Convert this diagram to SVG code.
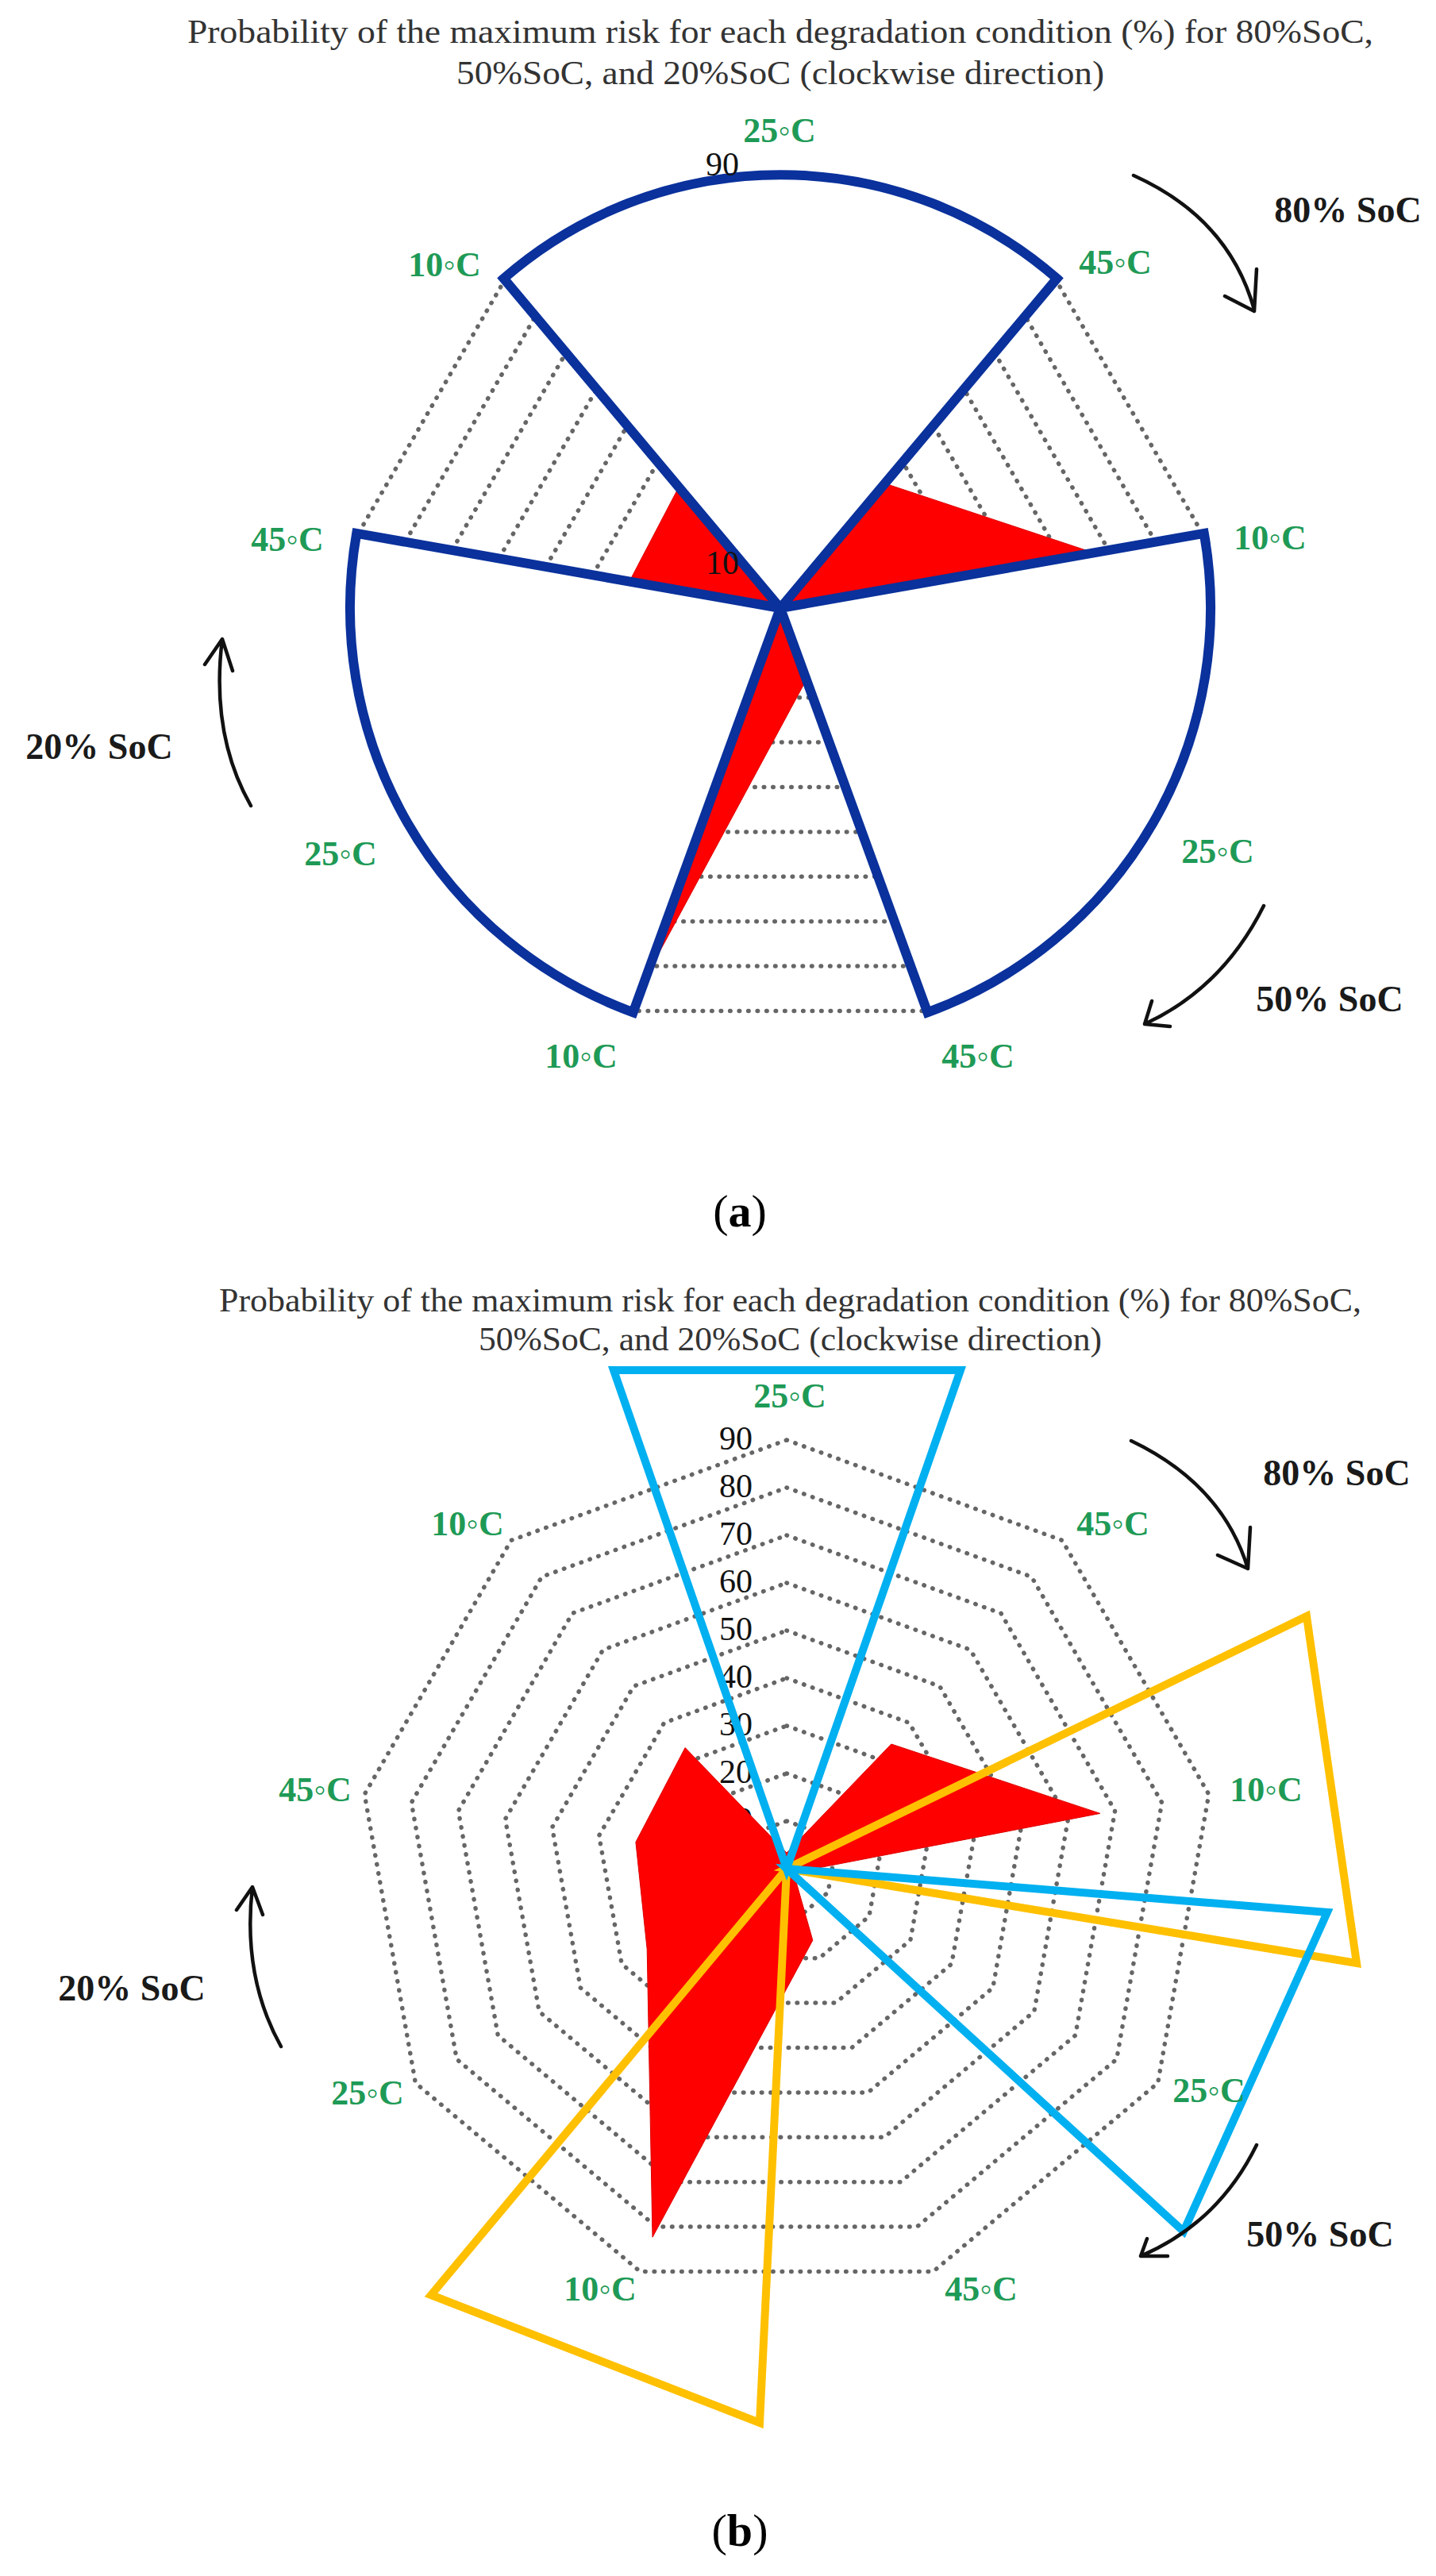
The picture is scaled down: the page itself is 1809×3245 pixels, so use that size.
<svg xmlns="http://www.w3.org/2000/svg" xmlns:xlink="http://www.w3.org/1999/xlink" width="1809" height="3245" viewBox="0 0 1809 3245">
<style>
.title{font-family:"Liberation Serif",serif;font-size:42px;fill:#333}
.ax{font-family:"Liberation Serif","DejaVu Serif",serif;font-weight:bold;font-size:44px;fill:#1e9a56;text-anchor:middle}
.num{font-family:"Liberation Serif",serif;font-size:42px;fill:#111;text-anchor:end}
.soc{font-family:"Liberation Serif",serif;font-weight:bold;font-size:46px;fill:#1a1a1a;text-anchor:middle}
.cap{font-family:"Liberation Serif",serif;font-size:58px;fill:#000;text-anchor:middle}
.ring{fill:none;stroke:#666;stroke-width:5.5;stroke-dasharray:0.5 11;stroke-linecap:round}
.red{fill:#f00;stroke:#d00;stroke-width:1}
.sector{fill:#fff;stroke:#0a319c;stroke-width:12;stroke-linejoin:miter}
.cyan{fill:none;stroke:#00b0f0;stroke-width:10;stroke-linejoin:miter}
.orange{fill:none;stroke:#ffc000;stroke-width:10;stroke-linejoin:miter}
.arr{fill:none;stroke:#111;stroke-width:4.5;stroke-linecap:round;stroke-linejoin:round}
</style>
<defs>
<g id="rings">
<polygon class="ring" points="0,-60 38.6,-46 59.1,-10.4 52,30 20.5,56.4 -20.5,56.4 -52,30 -59.1,-10.4 -38.6,-46"/>
<polygon class="ring" points="0,-120 77.1,-91.9 118.2,-20.8 103.9,60 41,112.8 -41,112.8 -103.9,60 -118.2,-20.8 -77.1,-91.9"/>
<polygon class="ring" points="0,-180 115.7,-137.9 177.3,-31.2 155.9,90 61.6,169.1 -61.6,169.1 -155.9,90 -177.3,-31.2 -115.7,-137.9"/>
<polygon class="ring" points="0,-240 154.3,-183.8 236.4,-41.7 207.8,120 82.1,225.5 -82.1,225.5 -207.8,120 -236.4,-41.7 -154.3,-183.8"/>
<polygon class="ring" points="0,-300 192.8,-229.8 295.4,-52.1 259.8,150 102.6,281.9 -102.6,281.9 -259.8,150 -295.4,-52.1 -192.8,-229.8"/>
<polygon class="ring" points="0,-360 231.4,-275.8 354.5,-62.5 311.8,180 123.1,338.3 -123.1,338.3 -311.8,180 -354.5,-62.5 -231.4,-275.8"/>
<polygon class="ring" points="0,-420 270,-321.7 413.6,-72.9 363.7,210 143.6,394.7 -143.6,394.7 -363.7,210 -413.6,-72.9 -270,-321.7"/>
<polygon class="ring" points="0,-480 308.5,-367.7 472.7,-83.3 415.7,240 164.2,451.1 -164.2,451.1 -415.7,240 -472.7,-83.3 -308.5,-367.7"/>
<polygon class="ring" points="0,-540 347.1,-413.6 531.8,-93.7 467.6,270 184.7,507.4 -184.7,507.4 -467.6,270 -531.8,-93.7 -347.1,-413.6"/>
</g>
<polygon id="data" class="red" points="0,-20 131.8,-157 394.9,-69.6 8.7,5 32.8,90.2 -169,464.2 -175.8,101.5 -190.1,-33.5 -127.9,-152.4"/>
</defs>

<g id="chart-a">
<text class="title" x="236" y="54" textLength="1494" lengthAdjust="spacingAndGlyphs">Probability of the maximum risk for each degradation condition (%) for 80%SoC,</text>
<text class="title" x="575" y="106" textLength="816" lengthAdjust="spacingAndGlyphs">50%SoC, and 20%SoC (clockwise direction)</text>
<g transform="translate(983,766)">
<use href="#rings"/>
<use href="#data"/>
<g id="a-sectors">
<path class="sector" d="M0,0 L-348.4,-415.2 A530,530 0 0 1 348.4,-415.2 Z"/>
<path class="sector" d="M0,0 L533.8,-94.1 A542,542 0 0 1 185.4,509.3 Z"/>
<path class="sector" d="M0,0 L-185.4,509.3 A542,542 0 0 1 -533.8,-94.1 Z"/>
</g>
<text class="num" x="-52" y="-43">10</text>
<text class="num" x="-52" y="-545">90</text>
</g>
<g id="a-labels">
<text class="ax" x="982" y="179">25◦C</text>
<text class="ax" x="1405" y="345">45◦C</text>
<text class="ax" x="1600" y="692">10◦C</text>
<text class="ax" x="1534" y="1087">25◦C</text>
<text class="ax" x="1232" y="1345">45◦C</text>
<text class="ax" x="732" y="1345">10◦C</text>
<text class="ax" x="429" y="1090">25◦C</text>
<text class="ax" x="362" y="694">45◦C</text>
<text class="ax" x="560" y="348">10◦C</text>
<text class="soc" x="1698" y="280">80% SoC</text>
<text class="soc" x="1675" y="1274">50% SoC</text>
<text class="soc" x="125" y="956">20% SoC</text>
</g>
<text class="cap" x="932" y="1545">(<tspan font-weight="bold">a</tspan>)</text>
</g>

<g id="chart-b">
<text class="title" x="276" y="1652" textLength="1439" lengthAdjust="spacingAndGlyphs">Probability of the maximum risk for each degradation condition (%) for 80%SoC,</text>
<text class="title" x="603" y="1701" textLength="785" lengthAdjust="spacingAndGlyphs">50%SoC, and 20%SoC (clockwise direction)</text>
<g transform="translate(991,2354)">
<use href="#rings"/>
<text class="num" x="-43" y="12">0</text>
<text class="num" x="-43" y="-48">10</text>
<text class="num" x="-43" y="-108">20</text>
<text class="num" x="-43" y="-168">30</text>
<text class="num" x="-43" y="-228">40</text>
<text class="num" x="-43" y="-288">50</text>
<text class="num" x="-43" y="-348">60</text>
<text class="num" x="-43" y="-408">70</text>
<text class="num" x="-43" y="-468">80</text>
<text class="num" x="-43" y="-528">90</text>
<use href="#data"/>
<g id="b-triangles">
<polygon class="orange" points="0,0 655,-318 718,119"/>
<polygon class="orange" points="0,0 -448,537 -34,698"/>
<polygon class="cyan" points="0,0 -218,-628 219,-628"/>
<polygon class="cyan" points="0,0 681,55 500,457"/>
</g>
</g>
<g id="b-labels">
<text class="ax" x="995" y="1773">25◦C</text>
<text class="ax" x="1402" y="1934">45◦C</text>
<text class="ax" x="1595" y="2269">10◦C</text>
<text class="ax" x="1523" y="2648">25◦C</text>
<text class="ax" x="1236" y="2898">45◦C</text>
<text class="ax" x="756" y="2898">10◦C</text>
<text class="ax" x="463" y="2651">25◦C</text>
<text class="ax" x="397" y="2269">45◦C</text>
<text class="ax" x="589" y="1934">10◦C</text>
<text class="soc" x="1684" y="1871">80% SoC</text>
<text class="soc" x="1663" y="2830">50% SoC</text>
<text class="soc" x="166" y="2520">20% SoC</text>
</g>
<text class="cap" x="932" y="3207">(<tspan font-weight="bold">b</tspan>)</text>
</g>

<g id="connectors">
<path class="arr" d="M1428,221 Q1548,275 1580,390 M1543,373 L1580,392 L1583,339"/>
<path class="arr" d="M1592,1141 Q1540,1245 1442,1290 M1451,1261 L1442,1290 L1474,1293"/>
<path class="arr" d="M316,1015 Q265,925 280,805 M258,837 L280,805 L293,845"/>
<path class="arr" d="M1425,1815 Q1540,1870 1572,1976 M1534,1959 L1572,1976 L1575,1924"/>
<path class="arr" d="M1583,2702 Q1535,2800 1437,2842 M1445,2820 L1437,2842 L1471,2842"/>
<path class="arr" d="M354,2578 Q305,2490 318,2377 M298,2406 L318,2377 L331,2412"/>
</g>
</svg>
